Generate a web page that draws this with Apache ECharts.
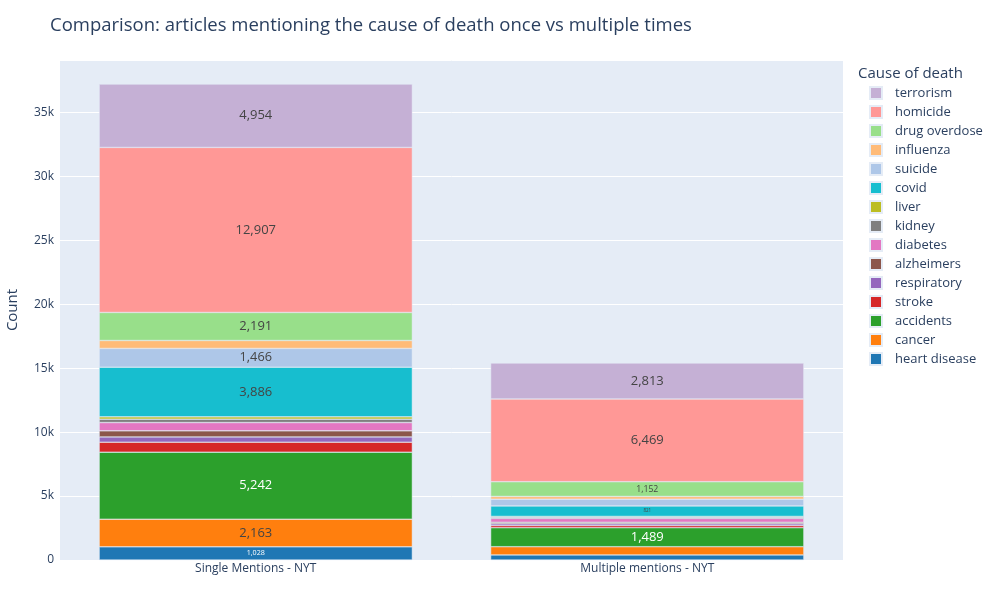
<!DOCTYPE html>
<html>
<head>
<meta charset="utf-8">
<script src="https://cdn.jsdelivr.net/npm/echarts@6/dist/echarts.min.js"></script>
<style>
  html, body { margin: 0; padding: 0; background: #fff; }
  #chart { width: 1000px; height: 600px; }
</style>
</head>
<body>
<div id="chart"></div>
<script>
// bar categories and stack order (bottom to top)
var categories = ['Single Mentions - NYT', 'Multiple mentions - NYT'];
var causes = ['heart disease', 'cancer', 'accidents', 'stroke', 'respiratory', 'alzheimers',
    'diabetes', 'kidney', 'liver', 'covid', 'suicide', 'influenza', 'drug overdose', 'homicide', 'terrorism'];
var singleCounts = [1028, 2163, 5242, 780, 415, 470, 650, 265, 180, 3886, 1466, 620, 2191, 12907, 4954];
var multipleCounts = [400, 640, 1489, 170, 130, 120, 300, 90, 70, 821, 530, 210, 1152, 6469, 2813];
var causeColors = ['#1f77b4', '#ff7f0e', '#2ca02c', '#d62728', '#9467bd', '#8c564b', '#e377c2',
    '#7f7f7f', '#bcbd22', '#17becf', '#aec7e8', '#ffbb78', '#98df8a', '#ff9896', '#c5b0d5'];
var yTicks = [0, 5000, 10000, 15000, 20000, 25000, 30000, 35000];

var darkBars = ['#1f77b4', '#2ca02c', '#d62728'];
var yMax = 39100;
var plotHeight = 500;
var fontFamily = '"Open Sans", Verdana, Arial, sans-serif';

// plotly-like inside text: shrink with the segment, hide when too small
function cell(v, color) {
    var h = v * plotHeight / yMax;
    var fs = Math.min(13, h - 6);
    var item = { value: v };
    if (fs < 4) {
        item.label = { show: false };
    } else {
        item.label = {
            show: true,
            fontSize: fs,
            color: darkBars.indexOf(color) >= 0 ? '#fff' : '#444'
        };
    }
    return item;
}

var series = causes.map(function (name, i) {
    return {
        name: name,
        type: 'bar',
        stack: 'total',
        barWidth: '80%',
        itemStyle: { color: causeColors[i], borderColor: '#E5ECF6', borderWidth: 0.5 },
        label: {
            position: 'inside',
            fontFamily: fontFamily,
            formatter: function (p) { return p.value.toLocaleString('en-US'); }
        },
        data: [cell(singleCounts[i], causeColors[i]), cell(multipleCounts[i], causeColors[i])]
    };
});

var chart = echarts.init(document.getElementById('chart'));
var option = {
    animation: false,
    backgroundColor: '#fff',
    textStyle: { fontFamily: fontFamily },
    title: [{
        text: 'Comparison: articles mentioning the cause of death once vs multiple times',
        left: 45, top: 11,
        textStyle: { fontFamily: fontFamily, fontSize: 18.5, fontWeight: 'normal', color: '#2a3f5f' }
    }, {
        text: 'Cause of death',
        left: 853, top: 61,
        textStyle: { fontFamily: fontFamily, fontSize: 15, fontWeight: 'normal', color: '#2a3f5f' }
    }],
    legend: {
        orient: 'vertical',
        left: 864, top: 81,
        itemWidth: 12, itemHeight: 12,
        itemGap: 5,
        icon: 'rect',
        data: causes.slice().reverse(),
        textStyle: { fontFamily: fontFamily, fontSize: 13, color: '#2a3f5f', padding: [0, 0, 0, 8] }
    },
    grid: {
        left: 60, right: 157, top: 60, bottom: 40,
        outerBoundsMode: 'none',
        show: true, backgroundColor: '#E5ECF6', borderWidth: 0
    },
    xAxis: {
        type: 'category',
        data: categories,
        axisLine: { show: false },
        axisTick: { show: false },
        axisLabel: { color: '#2a3f5f', fontSize: 12, margin: 3 }
    },
    yAxis: {
        type: 'value',
        min: 0, max: yMax, interval: 5000,
        name: 'Count',
        nameLocation: 'middle',
        nameGap: 40,
        nameTextStyle: { color: '#2a3f5f', fontSize: 15 },
        axisLine: { show: false },
        axisTick: { show: false },
        splitLine: { lineStyle: { color: '#fff', width: 1 } },
        axisLabel: {
            color: '#2a3f5f', fontSize: 12, margin: 6,
            showMaxLabel: false,
            formatter: function (v) {
                if (yTicks.indexOf(v) < 0) return '';
                return v === 0 ? '0' : (v / 1000) + 'k';
            }
        }
    },
    series: series
};
chart.setOption(option);
</script>
</body>
</html>
